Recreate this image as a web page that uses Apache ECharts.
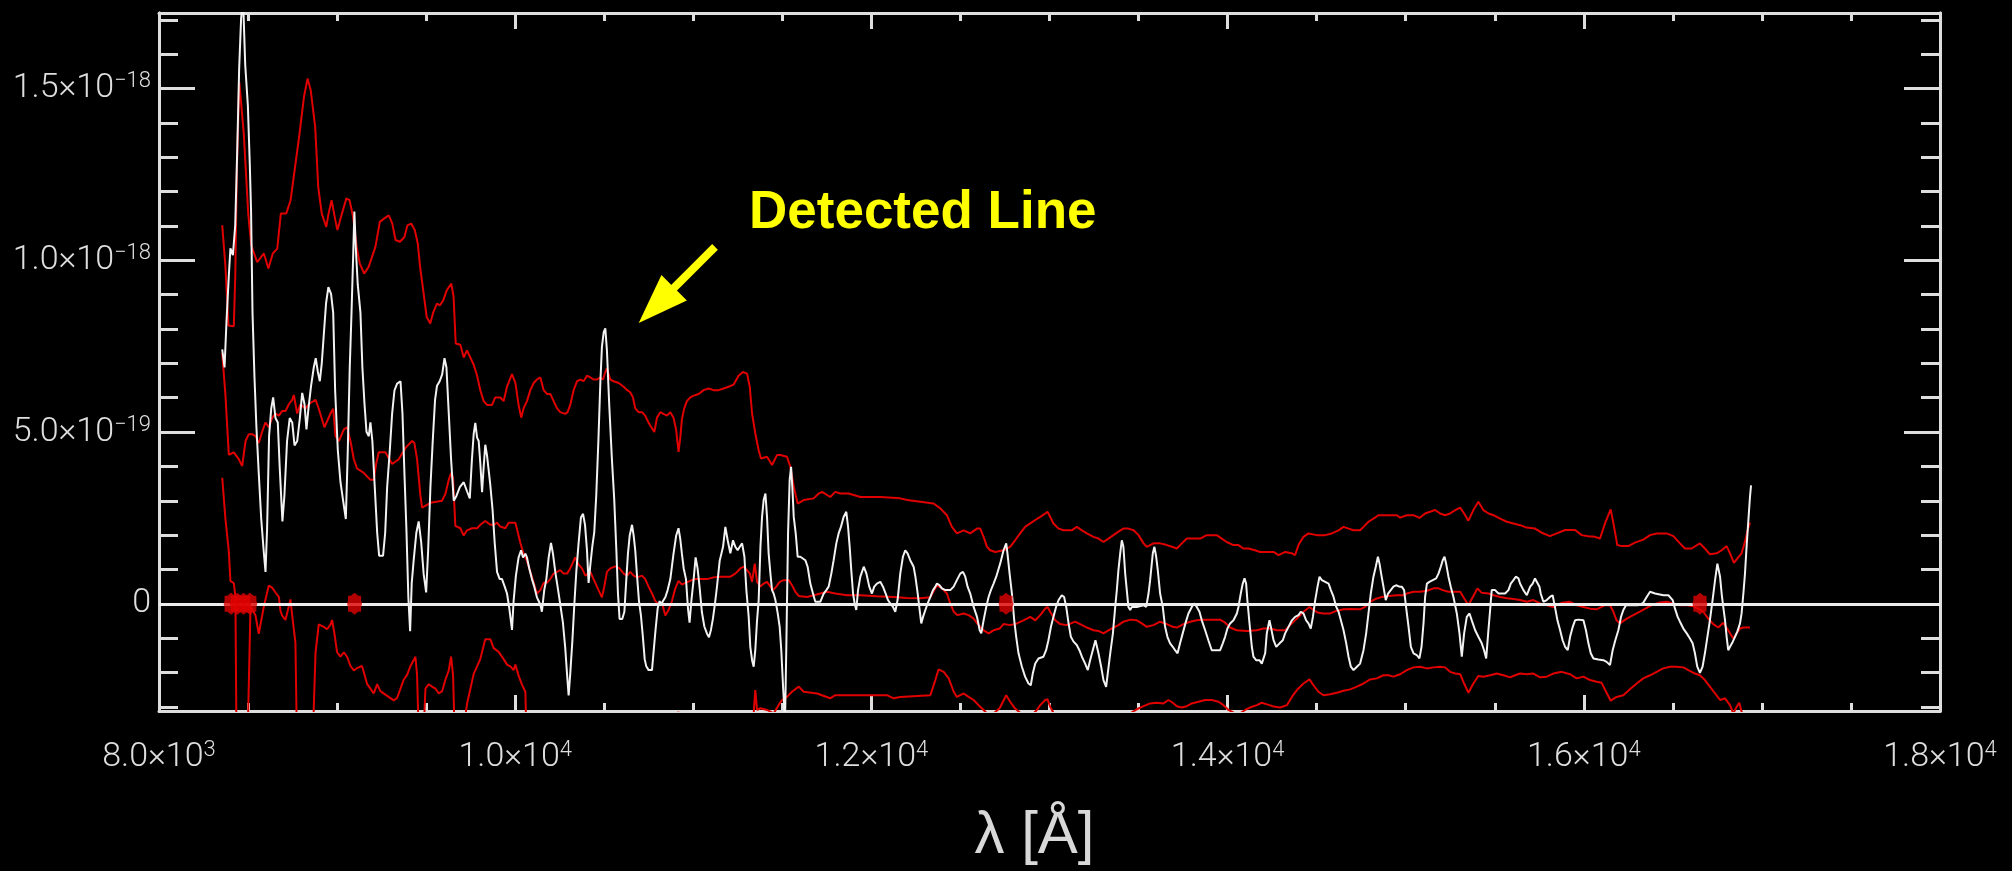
<!DOCTYPE html>
<html>
<head>
<meta charset="utf-8">
<script src="https://cdn.jsdelivr.net/npm/echarts@6/dist/echarts.min.js"></script>
<style>
html, body { margin: 0; padding: 0; background: #000; }
#chart { width: 2012px; height: 871px; }
</style>
</head>
<body>
<div id="chart"></div>
<script>
// wavelength [A], flux in units of 1e-19
var spectrum = [
  [8355,7.41],[8368,6.88],[8379,8.22],[8392,9.55],[8401,10.35],[8415,10.15],[8428,11.02],[8439,13.16],[8450,15.57],[8461,17.04],
  [8472,17.6],[8484,15.70],[8499,14.50],[8510,12.76],[8517,11.42],[8525,8.48],[8536,6.61],[8547,5.14],[8560,3.81],[8574,2.47],
  [8588,1.53],[8598,0.93],[8607,2.20],[8618,4.88],[8630,5.68],[8641,6.01],[8654,5.41],[8667,5.28],[8678,3.94],[8693,2.40],
  [8704,3.14],[8719,4.74],[8734,5.41],[8748,5.28],[8761,4.61],[8776,4.74],[8791,5.41],[8804,6.14],[8817,5.81],[8828,5.08],
  [8839,5.68],[8854,6.35],[8869,6.88],[8880,7.15],[8892,6.75],[8903,6.48],[8914,7.01],[8925,7.81],[8938,8.75],[8951,9.22],
  [8966,9.02],[8978,8.48],[8989,6.21],[9004,4.47],[9019,3.54],[9034,3.00],[9049,2.47],[9060,4.47],[9071,6.88],[9081,8.48],
  [9090,10.09],[9097,11.42],[9105,10.35],[9116,9.29],[9131,8.48],[9142,6.88],[9154,5.81],[9165,5.01],[9178,4.88],[9187,5.28],
  [9198,4.74],[9210,3.54],[9225,2.07],[9236,1.40],[9258,1.40],[9270,2.07],[9281,3.40],[9296,4.47],[9309,5.54],[9322,6.21],
  [9337,6.41],[9356,6.48],[9367,5.54],[9378,3.81],[9389,2.20],[9400,0.20],[9410,-0.80],[9419,0.60],[9430,1.27],[9445,2.07],
  [9458,2.40],[9472,1.80],[9486,0.87],[9500,0.33],[9511,1.53],[9524,3.40],[9537,4.74],[9550,5.94],[9561,6.35],[9576,6.48],
  [9590,6.68],[9603,7.15],[9614,6.88],[9627,5.54],[9640,4.21],[9655,3.00],[9670,3.14],[9689,3.40],[9711,3.54],[9730,3.27],
  [9745,3.07],[9757,4.21],[9767,4.95],[9776,5.27],[9786,4.84],[9795,4.74],[9804,4.10],[9814,3.25],[9823,3.99],[9832,4.63],
  [9842,4.31],[9851,3.89],[9860,3.47],[9873,2.73],[9885,1.77],[9898,0.93],[9913,0.72],[9926,0.72],[9941,0.50],[9954,0.30],
  [9967,-0.13],[9982,-0.76],[9991,0.08],[10004,0.82],[10019,1.35],[10033,1.56],[10044,1.35],[10057,1.46],[10066,1.35],[10079,1.03],
  [10094,0.72],[10107,0.50],[10122,0.19],[10141,-0.02],[10150,-0.23],[10163,0.40],[10175,0.72],[10188,1.35],[10201,1.77],[10212,1.46],
  [10225,0.93],[10238,0.50],[10253,-0.02],[10268,-0.55],[10281,-1.29],[10291,-2.04],[10300,-2.67],[10309,-2.04],[10321,-1.08],[10332,-0.02],
  [10343,0.93],[10356,1.77],[10369,2.51],[10381,2.62],[10392,2.30],[10403,1.56],[10412,0.61],[10422,1.14],[10433,1.67],[10444,2.09],
  [10455,3.15],[10467,4.74],[10478,6.43],[10487,7.49],[10497,7.91],[10506,8.02],[10515,7.38],[10528,5.79],[10543,4.21],[10556,3.04],
  [10568,1.56],[10577,0.30],[10586,-0.44],[10601,-0.44],[10613,-0.23],[10624,0.72],[10633,1.46],[10643,1.99],[10656,2.30],[10665,1.99],
  [10674,1.56],[10684,0.82],[10695,0.08],[10706,-0.34],[10717,-0.97],[10727,-1.61],[10736,-1.82],[10749,-1.93],[10768,-1.93],[10777,-1.40],
  [10788,-0.76],[10800,-0.13],[10811,0.08],[10820,-0.02],[10830,0.08],[10843,0.19],[10856,0.40],[10871,0.72],[10889,1.46],[10904,1.99],
  [10917,2.20],[10927,1.88],[10936,1.46],[10946,1.03],[10959,0.72],[10970,-0.13],[10979,-0.55],[10989,0.08],[11002,0.72],[11013,1.35],
  [11024,1.03],[11035,0.50],[11048,-0.23],[11062,-0.66],[11077,-0.87],[11088,-0.97],[11099,-0.76],[11110,-0.44],[11121,-0.02],[11133,0.50],
  [11148,1.25],[11167,1.66],[11180,2.24],[11193,1.85],[11208,1.47],[11223,1.85],[11236,1.66],[11249,1.56],[11261,1.66],[11274,1.76],
  [11287,1.37],[11298,0.40],[11311,-0.38],[11320,-1.25],[11330,-1.64],[11339,-1.83],[11348,-1.35],[11358,-0.48],[11367,0.11],[11377,1.66],
  [11386,2.53],[11395,3.02],[11405,3.21],[11414,2.53],[11423,1.47],[11433,0.88],[11442,0.40],[11451,0.30],[11461,0.11],[11474,-0.28],
  [11485,-0.67],[11494,-1.35],[11504,-2.41],[11515,-3.40],[11522,-1.35],[11532,2.05],[11541,3.60],[11549,3.99],[11556,3.40],[11564,2.53],
  [11575,2.05],[11586,1.37],[11601,1.37],[11629,1.27],[11642,1.08],[11657,0.59],[11672,0.30],[11685,0.06],[11713,0.06],[11732,0.30],
  [11747,0.40],[11760,0.50],[11775,0.88],[11788,1.27],[11803,1.76],[11816,2.05],[11829,2.24],[11844,2.53],[11859,2.68],[11869,2.24],
  [11878,1.66],[11887,0.98],[11897,0.30],[11906,0.01],[11915,-0.18],[11925,0.40],[11938,0.79],[11957,1.08],[11972,0.88],[11988,0.50],
  [12003,0.30],[12016,0.50],[12031,0.59],[12050,0.64],[12065,0.50],[12080,0.30],[12093,0.11],[12106,0.01],[12121,-0.09],[12134,-0.23],
  [12147,0.11],[12162,0.88],[12177,1.37],[12190,1.56],[12203,1.47],[12218,1.27],[12237,1.08],[12247,0.79],[12260,0.30],[12271,-0.18],
  [12280,-0.57],[12290,-0.38],[12303,-0.18],[12316,0.01],[12331,0.20],[12346,0.40],[12359,0.50],[12368,0.59],[12383,0.54],[12396,0.45],
  [12415,0.40],[12443,0.40],[12462,0.50],[12480,0.69],[12499,0.88],[12514,0.93],[12527,0.79],[12540,0.50],[12555,0.30],[12574,-0.09],
  [12593,-0.38],[12608,-0.77],[12617,-0.86],[12630,-0.48],[12645,-0.09],[12658,0.20],[12671,0.40],[12686,0.59],[12701,0.79],[12723,1.17],
  [12742,1.56],[12757,1.76],[12764,1.47],[12776,0.88],[12789,0.30],[12802,-0.48],[12813,-0.96],[12826,-1.44],[12845,-1.83],[12863,-2.12],
  [12882,-2.32],[12895,-2.37],[12906,-2.03],[12920,-1.74],[12938,-1.59],[12966,-1.54],[12981,-1.35],[12994,-1.06],[13008,-0.67],[13022,-0.38],
  [13037,-0.09],[13051,0.11],[13069,0.25],[13082,0.20],[13094,-0.09],[13107,-0.57],[13120,-0.96],[13135,-1.10],[13153,-1.20],[13168,-1.35],
  [13182,-1.54],[13200,-1.74],[13215,-1.93],[13228,-1.64],[13243,-1.35],[13258,-1.06],[13275,-1.44],[13290,-1.83],[13303,-2.22],[13318,-2.42],
  [13327,-2.03],[13341,-1.44],[13356,-0.86],[13369,-0.09],[13378,0.40],[13387,0.98],[13397,1.47],[13406,1.85],[13415,1.66],[13425,0.88],
  [13434,0.40],[13443,-0.09],[13453,-0.18],[13462,-0.09],[13490,-0.09],[13528,-0.04],[13543,-0.09],[13556,0.30],[13565,0.69],[13580,1.47],
  [13589,1.66],[13599,1.37],[13608,0.98],[13621,0.30],[13636,-0.09],[13649,-0.67],[13662,-0.96],[13677,-1.15],[13692,-1.25],[13705,-1.35],
  [13719,-1.44],[13733,-1.15],[13748,-0.86],[13763,-0.57],[13780,-0.28],[13799,-0.09],[13812,0.01],[13827,-0.09],[13842,-0.23],[13855,-0.48],
  [13874,-0.77],[13892,-1.06],[13911,-1.35],[13958,-1.35],[13973,-1.15],[13986,-0.96],[13999,-0.72],[14014,-0.57],[14033,-0.48],[14052,-0.28],
  [14061,-0.09],[14074,0.30],[14085,0.59],[14095,0.74],[14104,0.59],[14111,0.11],[14123,-0.57],[14136,-1.25],[14145,-1.54],[14160,-1.64],
  [14179,-1.64],[14192,-1.74],[14201,-1.78],[14211,-1.44],[14220,-0.86],[14235,-0.48],[14243,-0.67],[14258,-1.06],[14273,-1.25],[14292,-1.15],
  [14310,-1.06],[14323,-0.86],[14342,-0.67],[14361,-0.48],[14379,-0.38],[14398,-0.33],[14411,-0.23],[14426,-0.28],[14441,-0.48],[14454,-0.57],
  [14467,-0.72],[14479,-0.38],[14492,0.11],[14505,0.50],[14516,0.79],[14529,0.69],[14548,0.64],[14567,0.59],[14580,0.40],[14595,0.20],
  [14610,-0.09],[14623,-0.23],[14636,-0.48],[14651,-0.77],[14666,-1.15],[14679,-1.54],[14692,-1.83],[14707,-1.93],[14726,-1.83],[14744,-1.74],
  [14763,-1.35],[14778,-0.86],[14791,-0.28],[14804,0.30],[14819,0.79],[14832,1.08],[14844,1.37],[14853,1.17],[14862,0.88],[14875,0.50],
  [14888,0.11],[14901,0.30],[14916,0.40],[14931,0.50],[14946,0.54],[14965,0.50],[14978,0.50],[14991,0.40],[15002,-0.09],[15016,-0.67],
  [15029,-1.25],[15044,-1.44],[15062,-1.49],[15077,-1.59],[15089,-1.25],[15100,-0.57],[15109,0.20],[15119,0.59],[15133,0.64],[15152,0.69],
  [15171,0.74],[15184,0.88],[15197,1.08],[15208,1.27],[15218,1.37],[15227,1.17],[15240,0.79],[15253,0.50],[15268,0.20],[15287,-0.28],
  [15302,-0.86],[15315,-1.54],[15328,-0.86],[15343,-0.38],[15358,-0.28],[15371,-0.48],[15390,-0.77],[15408,-0.96],[15427,-1.15],[15440,-1.35],
  [15452,-1.59],[15463,-0.86],[15474,-0.18],[15483,0.40],[15502,0.40],[15521,0.30],[15540,0.30],[15558,0.30],[15577,0.40],[15590,0.59],
  [15605,0.69],[15618,0.79],[15633,0.74],[15642,0.59],[15661,0.40],[15680,0.25],[15699,0.50],[15713,0.59],[15726,0.74],[15736,0.69],
  [15751,0.50],[15758,0.30],[15773,0.06],[15792,0.11],[15810,0.20],[15825,0.25],[15838,-0.09],[15852,-0.48],[15867,-0.77],[15881,-1.06],
  [15895,-1.25],[15910,-1.35],[15923,-0.96],[15938,-0.67],[15951,-0.48],[15969,-0.46],[15998,-0.48],[16012,-0.77],[16026,-1.15],[16039,-1.44],
  [16054,-1.59],[16082,-1.62],[16110,-1.64],[16128,-1.69],[16147,-1.78],[16162,-1.35],[16177,-1.06],[16194,-0.77],[16209,-0.38],[16222,-0.18],
  [16237,-0.04],[16278,-0.04],[16306,-0.04],[16334,0.03],[16353,0.20],[16372,0.35],[16381,0.38],[16400,0.30],[16447,0.25],[16475,0.25],
  [16499,0.11],[16512,-0.14],[16527,-0.38],[16540,-0.52],[16559,-0.72],[16578,-0.86],[16596,-1.01],[16611,-1.15],[16624,-1.44],[16637,-1.83],
  [16652,-2.01],[16667,-1.83],[16680,-1.44],[16694,-0.96],[16708,-0.48],[16723,0.11],[16737,0.69],[16750,1.17],[16765,0.79],[16774,0.30],
  [16783,-0.09],[16793,-0.48],[16802,-0.96],[16811,-1.35],[16821,-1.25],[16836,-1.11],[16849,-0.96],[16862,-0.81],[16877,-0.57],[16886,-0.28],
  [16896,0.30],[16905,0.88],[16914,1.66],[16924,2.43],[16933,3.11],[16939,3.45]
];

var upperBound = [
  [8355,11.02],[8373,9.82],[8390,8.10],[8420,8.08],[8428,9.50],[8438,12.80],[8451,15.19],[8476,13.69],[8501,11.36],[8518,10.44],
  [8551,9.95],[8589,10.20],[8614,9.76],[8639,10.20],[8664,10.34],[8684,11.36],[8714,11.36],[8739,11.75],[8764,12.72],[8789,13.69],
  [8814,14.76],[8834,15.29],[8852,14.95],[8877,13.88],[8894,12.14],[8914,11.36],[8939,10.97],[8952,11.36],[8969,11.75],[8990,11.17],
  [9002,10.88],[9027,11.36],[9052,11.80],[9070,11.75],[9090,11.26],[9110,10.39],[9127,9.91],[9152,9.61],[9177,9.81],[9215,10.39],
  [9240,11.12],[9265,11.22],[9290,11.31],[9310,11.07],[9328,10.59],[9353,10.54],[9378,10.68],[9395,11.02],[9416,11.07],[9436,10.88],
  [9453,10.49],[9466,9.81],[9486,9.03],[9503,8.35],[9523,8.16],[9541,8.50],[9561,8.74],[9578,8.69],[9596,8.84],[9616,9.13],
  [9641,9.32],[9654,8.94],[9666,7.58],[9692,7.54],[9711,7.17],[9729,7.38],[9748,7.17],[9767,6.96],[9786,6.64],[9804,6.22],
  [9823,5.90],[9842,5.79],[9870,5.79],[9888,6.01],[9916,6.01],[9935,5.90],[9954,6.32],[9982,6.69],[10001,6.43],[10019,5.79],
  [10034,5.42],[10047,5.69],[10066,5.90],[10085,6.22],[10104,6.43],[10122,6.53],[10141,6.59],[10160,6.22],[10178,6.11],[10197,6.11],
  [10216,5.90],[10235,5.69],[10253,5.58],[10281,5.53],[10294,5.58],[10309,5.79],[10328,6.22],[10347,6.48],[10366,6.53],[10384,6.48],
  [10403,6.64],[10422,6.59],[10440,6.53],[10459,6.53],[10478,6.59],[10493,6.53],[10506,6.75],[10515,6.85],[10534,6.53],[10553,6.48],
  [10581,6.43],[10609,6.32],[10628,6.22],[10646,6.16],[10661,6.01],[10674,5.69],[10693,5.58],[10712,5.58],[10730,5.48],[10749,5.27],
  [10768,5.11],[10781,5.00],[10796,5.42],[10815,5.58],[10833,5.53],[10852,5.48],[10871,5.58],[10889,5.42],[10904,5.05],[10917,4.42],
  [10927,4.84],[10936,5.37],[10949,5.69],[10964,5.90],[10983,6.01],[11002,6.06],[11030,6.11],[11058,6.22],[11086,6.27],[11114,6.22],
  [11142,6.22],[11170,6.27],[11198,6.32],[11226,6.38],[11254,6.64],[11279,6.75],[11302,6.70],[11317,6.32],[11330,5.54],[11348,4.96],
  [11367,4.47],[11380,4.23],[11414,4.28],[11442,4.04],[11470,4.33],[11489,4.33],[11526,4.28],[11545,3.99],[11564,3.41],[11586,2.92],
  [11620,3.02],[11676,3.07],[11704,3.21],[11723,3.26],[11769,3.11],[11797,3.26],[11826,3.21],[11872,3.21],[11938,3.11],[12050,3.11],
  [12162,3.07],[12200,3.02],[12275,2.97],[12349,2.92],[12387,2.78],[12424,2.58],[12452,2.24],[12480,2.05],[12518,2.14],[12555,2.05],
  [12593,2.19],[12611,2.19],[12630,1.95],[12649,1.66],[12667,1.56],[12695,1.51],[12742,1.56],[12779,1.66],[12807,1.85],[12835,2.05],
  [12863,2.24],[12892,2.34],[12920,2.44],[12948,2.53],[12976,2.63],[12989,2.68],[13004,2.53],[13022,2.34],[13051,2.19],[13079,2.14],
  [13125,2.14],[13153,2.24],[13182,2.14],[13210,2.05],[13247,1.95],[13275,1.90],[13303,1.80],[13331,1.90],[13359,2.00],[13387,2.10],
  [13415,2.19],[13443,2.19],[13472,2.14],[13500,2.00],[13528,1.76],[13546,1.66],[13584,1.76],[13621,1.76],[13659,1.71],[13687,1.66],
  [13715,1.61],[13743,1.76],[13771,1.90],[13808,1.90],[13846,1.90],[13883,2.00],[13939,2.00],[13967,1.90],[13995,1.80],[14033,1.71],
  [14061,1.71],[14089,1.61],[14117,1.61],[14154,1.56],[14182,1.51],[14258,1.51],[14286,1.42],[14323,1.51],[14361,1.47],[14379,1.42],
  [14398,1.71],[14426,1.95],[14454,2.05],[14501,2.00],[14548,2.00],[14585,2.05],[14623,2.14],[14651,2.24],[14679,2.19],[14707,2.14],
  [14744,2.14],[14763,2.24],[14791,2.39],[14819,2.48],[14847,2.58],[14894,2.58],[14950,2.58],[14969,2.51],[15006,2.58],[15044,2.58],
  [15077,2.50],[15109,2.63],[15137,2.68],[15165,2.73],[15193,2.63],[15221,2.58],[15249,2.63],[15278,2.73],[15306,2.80],[15328,2.63],
  [15352,2.42],[15380,2.73],[15408,2.97],[15436,2.73],[15465,2.63],[15493,2.58],[15530,2.48],[15568,2.39],[15605,2.34],[15642,2.29],
  [15679,2.22],[15726,2.19],[15764,2.07],[15810,1.97],[15848,2.05],[15895,2.15],[15951,2.15],[15988,2.00],[16026,1.97],[16063,1.95],
  [16091,1.90],[16119,2.34],[16151,2.75],[16170,2.24],[16188,1.71],[16213,1.68],[16250,1.68],[16287,1.78],[16334,1.87],[16372,2.00],
  [16409,2.05],[16465,2.05],[16503,1.97],[16540,1.76],[16568,1.61],[16605,1.61],[16652,1.76],[16680,1.61],[16708,1.44],[16746,1.47],
  [16774,1.56],[16802,1.68],[16821,1.47],[16843,1.19],[16867,1.35],[16886,1.47],[16905,1.81],[16920,2.15],[16933,2.36]
];

var smoothed = [
  [8355,7.30],[8373,6.08],[8392,4.34],[8420,4.41],[8448,4.21],[8467,4.01],[8486,4.74],[8504,4.94],[8523,4.94],[8542,4.88],
  [8560,4.68],[8579,5.01],[8598,5.28],[8617,5.14],[8635,5.41],[8654,5.54],[8673,5.48],[8691,5.61],[8710,5.61],[8729,5.81],
  [8748,5.94],[8757,6.08],[8776,5.54],[8794,5.81],[8822,5.68],[8841,5.81],[8879,5.94],[8897,5.68],[8929,5.14],[8963,5.54],
  [8978,5.68],[8991,4.88],[9010,4.74],[9038,5.08],[9056,5.14],[9075,4.74],[9094,4.21],[9112,3.94],[9150,3.81],[9187,3.61],
  [9206,3.61],[9219,4.07],[9234,4.41],[9271,4.41],[9309,4.07],[9346,4.21],[9384,4.54],[9421,4.74],[9434,4.68],[9449,4.21],
  [9468,3.14],[9477,2.80],[9524,2.94],[9589,3.00],[9608,3.20],[9627,3.61],[9640,3.81],[9651,3.67],[9664,2.27],[9692,2.20],
  [9711,1.99],[9729,2.14],[9757,2.20],[9786,2.20],[9804,2.30],[9832,2.41],[9860,2.30],[9879,2.30],[9898,2.36],[9916,2.25],
  [9945,2.20],[9963,2.36],[10001,2.36],[10014,2.09],[10029,1.77],[10047,1.46],[10066,1.25],[10085,0.93],[10104,0.61],[10122,0.30],
  [10141,0.40],[10160,0.61],[10178,0.61],[10197,0.72],[10216,0.88],[10235,0.93],[10253,0.98],[10272,0.88],[10291,0.88],[10309,1.03],
  [10337,1.35],[10356,1.14],[10375,1.03],[10394,0.82],[10422,0.93],[10440,0.72],[10468,0.40],[10487,0.19],[10500,0.50],[10515,0.93],
  [10534,1.03],[10562,1.09],[10586,1.03],[10609,0.88],[10628,0.82],[10646,0.93],[10665,0.82],[10684,0.77],[10712,0.82],[10730,0.72],
  [10749,0.50],[10768,0.30],[10787,0.08],[10805,-0.02],[10824,0.03],[10843,-0.34],[10861,-0.18],[10880,0.08],[10899,0.45],[10917,0.67],
  [10936,0.56],[10955,0.61],[10983,0.67],[11011,0.72],[11039,0.72],[11077,0.72],[11114,0.77],[11151,0.79],[11208,0.79],[11236,0.88],
  [11264,1.03],[11283,1.08],[11302,0.98],[11317,0.88],[11330,0.64],[11345,1.17],[11358,0.64],[11377,0.50],[11395,0.59],[11414,0.64],
  [11433,0.50],[11448,0.40],[11466,0.50],[11485,0.64],[11507,0.69],[11536,0.69],[11554,0.54],[11573,0.35],[11592,0.23],[11638,0.20],
  [11676,0.25],[11713,0.30],[11751,0.35],[11797,0.30],[11863,0.25],[11938,0.25],[12031,0.22],[12125,0.20],[12200,0.17],[12275,0.16],
  [12331,0.19],[12368,0.54],[12387,0.48],[12406,0.40],[12424,0.30],[12443,0.01],[12462,-0.23],[12484,-0.33],[12518,-0.28],[12546,-0.33],
  [12574,-0.43],[12602,-0.62],[12630,-0.77],[12658,-0.86],[12686,-0.77],[12720,-0.72],[12742,-0.59],[12779,-0.62],[12817,-0.57],[12854,-0.48],
  [12892,-0.38],[12920,-0.48],[12948,-0.33],[12976,-0.14],[12989,-0.09],[13004,-0.23],[13032,-0.48],[13060,-0.59],[13097,-0.62],[13144,-0.52],
  [13172,-0.59],[13210,-0.69],[13247,-0.77],[13275,-0.79],[13303,-0.86],[13331,-0.77],[13359,-0.69],[13387,-0.62],[13415,-0.52],[13453,-0.46],
  [13490,-0.48],[13518,-0.57],[13546,-0.67],[13584,-0.62],[13621,-0.52],[13659,-0.59],[13692,-0.67],[13715,-0.69],[13752,-0.59],[13790,-0.52],
  [13827,-0.48],[13864,-0.46],[13958,-0.46],[13986,-0.55],[14014,-0.69],[14051,-0.77],[14108,-0.79],[14164,-0.77],[14201,-0.72],[14239,-0.72],
  [14277,-0.77],[14323,-0.77],[14351,-0.62],[14389,-0.43],[14426,-0.23],[14460,-0.09],[14482,-0.18],[14510,-0.26],[14538,-0.28],[14576,-0.28],
  [14613,-0.20],[14651,-0.16],[14688,-0.15],[14744,-0.16],[14772,-0.09],[14800,0.06],[14829,0.14],[14866,0.20],[14903,0.23],[14950,0.25],
  [14988,0.25],[15006,0.30],[15044,0.35],[15081,0.35],[15119,0.38],[15156,0.45],[15184,0.45],[15208,0.40],[15240,0.35],[15306,0.35],
  [15328,0.16],[15352,-0.04],[15377,0.20],[15403,0.45],[15427,0.32],[15465,0.30],[15493,0.25],[15530,0.20],[15568,0.16],[15605,0.14],
  [15642,0.11],[15680,0.06],[15717,0.11],[15754,0.01],[15792,-0.04],[15829,-0.09],[15876,0.03],[15923,0.06],[15960,-0.04],[15998,-0.09],
  [16035,-0.14],[16072,-0.16],[16119,-0.04],[16147,-0.04],[16166,-0.23],[16184,-0.48],[16203,-0.57],[16241,-0.43],[16278,-0.33],[16315,-0.23],
  [16353,-0.12],[16381,-0.04],[16428,0.04],[16465,0.06],[16503,0.01],[16540,-0.04],[16578,-0.04],[16615,-0.07],[16643,-0.14],[16671,-0.23],
  [16699,-0.43],[16727,-0.59],[16755,-0.69],[16783,-0.55],[16811,-0.77],[16839,-1.01],[16858,-0.86],[16877,-0.72],[16896,-0.69],[16933,-0.69]
];

var lowerBound = [
  [8355,3.67],[8373,2.47],[8392,1.53],[8401,0.67],[8420,0.60],[8429,0.20],[8436,-4.5],[8495,-4.5],[8514,-0.07],[8542,-0.34],
  [8560,-0.87],[8570,-0.60],[8589,-0.07],[8607,0.33],[8617,0.53],[8635,0.47],[8654,0.33],[8673,0.20],[8682,-0.20],[8691,-0.34],
  [8710,-0.47],[8729,-0.07],[8738,0.13],[8748,-0.34],[8766,-1.14],[8776,-4.5],[8860,-4.5],[8879,-1.41],[8897,-0.60],[8925,-0.67],
  [8944,-0.74],[8963,-0.60],[8972,-0.47],[8985,-0.87],[9000,-1.41],[9019,-1.54],[9038,-1.41],[9056,-1.54],[9075,-1.81],[9094,-1.94],
  [9112,-1.87],[9140,-1.81],[9169,-2.34],[9187,-2.47],[9206,-2.61],[9225,-2.34],[9243,-2.54],[9281,-2.68],[9318,-2.81],[9337,-2.74],
  [9356,-2.47],[9374,-2.21],[9393,-2.07],[9412,-1.81],[9440,-1.54],[9449,-2.07],[9462,-4.5],[9480,-4.5],[9496,-2.47],[9515,-2.34],
  [9533,-2.41],[9552,-2.47],[9571,-2.61],[9590,-2.54],[9608,-2.21],[9627,-1.94],[9640,-1.54],[9651,-2.07],[9664,-4.5],[9700,-4.0],
  [9730,-2.90],[9767,-2.04],[9804,-1.61],[9832,-1.03],[9860,-1.03],[9879,-1.29],[9907,-1.40],[9935,-1.61],[9954,-1.77],[9973,-1.82],
  [9991,-1.93],[10001,-1.77],[10019,-2.09],[10038,-2.35],[10057,-2.56],[10062,-3.6],[10150,-4.5],[10300,-4.3],[10500,-4.2],[10700,-3.8],
  [10880,-3.5],[10917,-3.15],[10950,-3.6],[11100,-4.6],[11300,-4.6],[11339,-3.19],[11348,-2.51],[11358,-3.09],[11377,-3.04],[11414,-3.09],
  [11451,-3.19],[11479,-2.95],[11498,-2.80],[11526,-2.71],[11554,-2.56],[11592,-2.41],[11620,-2.56],[11695,-2.61],[11769,-2.75],[11797,-2.66],
  [11938,-2.66],[12087,-2.66],[12125,-2.75],[12162,-2.71],[12331,-2.66],[12359,-2.22],[12377,-1.91],[12406,-1.98],[12434,-2.17],[12462,-2.56],
  [12480,-2.71],[12518,-2.61],[12546,-2.71],[12574,-2.80],[12602,-2.95],[12630,-3.09],[12649,-3.19],[12686,-3.19],[12720,-3.04],[12757,-2.66],
  [12779,-2.85],[12807,-3.05],[12835,-3.17],[12901,-3.24],[12929,-3.09],[12948,-2.95],[12976,-2.80],[12989,-2.78],[13004,-3.0],[13022,-3.17],
  [13135,-3.29],[13322,-3.29],[13453,-3.19],[13490,-3.07],[13528,-2.98],[13565,-2.90],[13602,-2.88],[13640,-2.90],[13668,-2.80],[13692,-2.88],
  [13715,-2.98],[13743,-3.02],[13771,-2.98],[13799,-2.90],[13836,-2.85],[13874,-2.80],[13911,-2.80],[13949,-2.85],[13977,-2.95],[14005,-3.09],
  [14042,-3.19],[14070,-3.19],[14098,-3.09],[14126,-3.02],[14164,-2.95],[14192,-2.88],[14235,-2.95],[14258,-2.99],[14295,-3.02],[14333,-2.95],
  [14361,-2.71],[14389,-2.51],[14426,-2.32],[14460,-2.20],[14482,-2.37],[14510,-2.56],[14538,-2.66],[14576,-2.63],[14613,-2.59],[14651,-2.53],
  [14688,-2.49],[14726,-2.41],[14763,-2.32],[14800,-2.20],[14838,-2.17],[14875,-2.08],[14903,-2.08],[14931,-2.12],[14969,-2.05],[15006,-1.93],
  [15044,-1.85],[15081,-1.83],[15119,-1.88],[15156,-1.85],[15193,-1.83],[15221,-1.85],[15249,-1.98],[15278,-2.03],[15306,-2.05],[15328,-2.32],
  [15352,-2.59],[15380,-2.32],[15408,-2.10],[15436,-2.12],[15474,-2.08],[15511,-2.03],[15549,-2.08],[15586,-2.14],[15614,-2.08],[15642,-2.03],
  [15680,-2.05],[15717,-2.03],[15754,-2.14],[15792,-2.12],[15829,-2.03],[15876,-1.98],[15923,-2.05],[15960,-2.17],[15998,-2.12],[16035,-2.22],
  [16072,-2.27],[16100,-2.30],[16125,-2.56],[16151,-2.82],[16184,-2.71],[16222,-2.66],[16259,-2.49],[16297,-2.32],[16334,-2.17],[16372,-2.08],
  [16409,-1.98],[16446,-1.88],[16484,-1.83],[16521,-1.83],[16559,-1.85],[16587,-1.93],[16624,-2.03],[16652,-2.08],[16680,-2.22],[16708,-2.41],
  [16737,-2.61],[16765,-2.80],[16793,-2.75],[16821,-2.95],[16839,-3.19],[16858,-3.0],[16873,-2.88],[16886,-3.14],[16905,-3.35],[16933,-3.6]
];

// masked pixels, drawn on the zero line
var flaggedWave = [8405, 8440, 8475, 8510, 9098, 12756, 16652];

// axis ticks (y in units of 1e-19)
var yMajorTicks = [0, 5, 10, 15];
var yMinorTicks = [-3, -2, -1, 1, 2, 3, 4, 6, 7, 8, 9, 11, 12, 13, 14, 16, 17];

// annotation arrow: tail -> head, and its label
var arrowFrom = [11122, 10.39];
var arrowTo = [10793, 8.69];
var arrowText = 'Detected Line';

var AXIS_COLOR = '#dedede';
var RED = '#e00000';
var LABEL_FONT = "Roboto, 'Liberation Sans', sans-serif";

var rich = {
  m: { fontSize: 34, lineHeight: 36, fontFamily: LABEL_FONT, fontWeight: 300, color: AXIS_COLOR },
  s: { fontSize: 22, lineHeight: 16, fontFamily: LABEL_FONT, fontWeight: 300, color: AXIS_COLOR, verticalAlign: 'top' }
};

function sci(mant, exp) {
  return '{m|' + mant + '×10}{s|' + exp + '}';
}
function xLabel(v) {
  var e = Math.floor(Math.log10(v) + 1e-9);
  return sci((v / Math.pow(10, e)).toFixed(1), e);
}
function yLabel(v) {
  if (v === 0) return '{m|0}';
  if (v >= 10) return sci((v / 10).toFixed(1), '−18');
  return sci(v.toFixed(1), '−19');
}

var chart = echarts.init(document.getElementById('chart'), null, { renderer: 'canvas' });

function xAxisCfg(pos) {
  return {
    type: 'value', position: pos, min: 8000, max: 18000, interval: 2000,
    axisLine: { show: true, onZero: false, lineStyle: { color: AXIS_COLOR, width: 3 } },
    axisTick: { show: true, inside: true, length: 16, lineStyle: { color: AXIS_COLOR, width: 3 } },
    minorTick: { show: true, splitNumber: 4, length: 8, lineStyle: { color: AXIS_COLOR, width: 3 } },
    axisLabel: pos === 'bottom'
      ? { show: true, margin: 28, formatter: xLabel, rich: rich }
      : { show: false },
    splitLine: { show: false },
    minorSplitLine: { show: false },
    name: pos === 'bottom' ? 'λ [Å]' : '',
    nameLocation: 'middle',
    nameGap: 95,
    nameTextStyle: { fontSize: 60, color: '#d8d8d8', fontFamily: "'Liberation Sans', Arial, sans-serif", padding: [0, 30, 0, 0] }
  };
}

function yAxisCfg(pos, ticks, len, withLabels) {
  return {
    type: 'value', position: pos, min: -3.12, max: 17.2,
    axisLine: { show: true, onZero: false, lineStyle: { color: AXIS_COLOR, width: 3 } },
    axisTick: { show: true, inside: true, length: len, customValues: ticks, lineStyle: { color: AXIS_COLOR, width: 3 } },
    axisLabel: withLabels
      ? { show: true, margin: 8, customValues: ticks, formatter: yLabel, rich: rich }
      : { show: false },
    splitLine: { show: false }
  };
}

var lineDefaults = function (name, data, color) {
  return {
    name: name, type: 'line', data: data, showSymbol: false, symbol: 'none',
    lineStyle: { color: color, width: 2 }, xAxisIndex: 0, yAxisIndex: 0,
    silent: true, animation: false
  };
};

var blobPath = 'path://M0,-11L4,-8L7,-8L7,-3L8,0L7,3L7,8L4,8L0,11L-4,8L-7,8L-7,3L-8,0L-7,-3L-7,-8L-4,-8Z';

var option = {
  backgroundColor: '#000',
  animation: false,
  grid: { left: 159, right: 72, top: 13, bottom: 160, containLabel: false, outerBoundsMode: 'none' },
  xAxis: [xAxisCfg('bottom'), xAxisCfg('top')],
  yAxis: [
    yAxisCfg('left', yMajorTicks, 36, true),
    yAxisCfg('left', yMinorTicks, 19, false),
    yAxisCfg('right', yMajorTicks, 36, false),
    yAxisCfg('right', yMinorTicks, 19, false)
  ],
  series: [
    lineDefaults('lower', lowerBound, RED),
    lineDefaults('smoothed', smoothed, RED),
    lineDefaults('upper', upperBound, RED),
    Object.assign(lineDefaults('spectrum', spectrum, '#f2f2f2'), {
      markLine: {
        silent: true, symbol: ['none', 'none'], label: { show: false },
        lineStyle: { color: '#ececec', width: 3, type: 'solid' },
        data: [{ yAxis: 0 }]
      }
    }),
    {
      name: 'flagged', type: 'scatter', xAxisIndex: 0, yAxisIndex: 0,
      data: flaggedWave.map(function (w) { return [w, 0]; }),
      symbol: blobPath, symbolSize: [15, 22],
      itemStyle: { color: RED }, silent: true, z: 5,
      markLine: {
        silent: true, label: { show: false },
        lineStyle: { color: '#ffff00', width: 8, type: 'solid' },
        data: [[
          { coord: arrowFrom, symbol: 'none' },
          { coord: arrowTo, symbol: 'triangle', symbolSize: [36, 50] }
        ]]
      }
    }
  ],
  graphic: [{
    type: 'text', x: 749, y: 213, silent: true,
    style: {
      text: arrowText, fill: '#ffff00',
      font: "bold 53px 'Liberation Sans', Arial, sans-serif",
      align: 'left', verticalAlign: 'middle', textAlign: 'left', textVerticalAlign: 'middle'
    }
  }]
};

chart.setOption(option);
</script>
</body>
</html>
